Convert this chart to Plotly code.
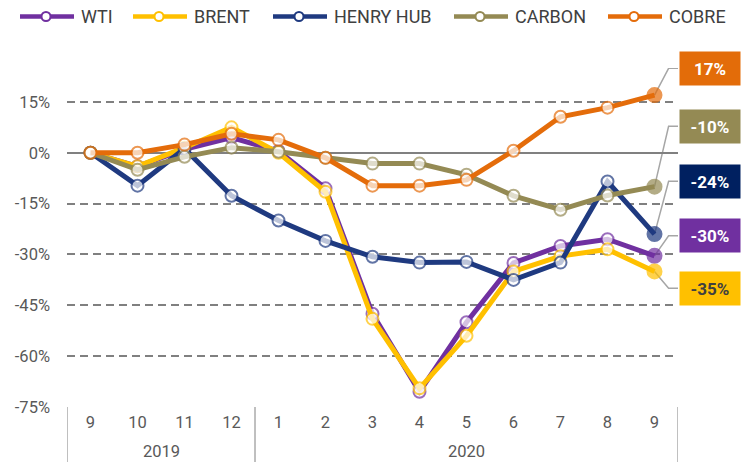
import plotly.graph_objects as go

# ---- data ----
months = ["9", "10", "11", "12", "1", "2", "3", "4", "5", "6", "7", "8", "9"]
years = ["2019", "2020"]
year_counts = [4, 9]

series_names = ["WTI", "BRENT", "HENRY HUB", "CARBON", "COBRE"]
wti = [0, -4, 1, 4.5, 0.5, -10.5, -47.5, -70.5, -50, -32.5, -27.5, -25.5, -30.4]
brent = [0, -4, 1.5, 7.5, 0, -11.5, -49, -69.5, -54, -35, -30.5, -28.5, -35]
henry_hub = [0, -9.7, 1.2, -12.7, -20, -26, -30.7, -32.4, -32.2, -37.5, -32.4, -8.5, -24]
carbon = [0, -5, -1.2, 1.5, 0.3, -1.5, -3.2, -3.2, -6.5, -12.7, -16.8, -12.6, -10]
cobre = [0, 0, 2.4, 5.6, 3.8, -1.5, -9.7, -9.7, -8, 0.6, 10.6, 13.3, 17]

y_ticks = [-75, -60, -45, -30, -15, 0, 15]
y_tick_text = ["-75%", "-60%", "-45%", "-30%", "-15%", "0%", "15%"]

# ---- styles / layout ----
line_colors = ["#7030A0", "#FFC000", "#1F3A80", "#948A54", "#E46C0A"]
box_colors = ["#7030A0", "#FFC000", "#002060", "#948A54", "#E36C09"]
box_text_colors = ["#FFFFFF", "#404040", "#FFFFFF", "#FFFFFF", "#FFFFFF"]
callout_y = [-24.5, -40, -8.4, 7.8, 24.9]      # callout box centres (axis units)
legend_x_px = [20, 133, 273, 454, 608]          # legend symbol starts (pixels)

W, H = 746, 462
ML, MR, MT, MB = 67, 68, 68, 55
PW, PH = W - ML - MR, H - MT - MB
X_RANGE = [-0.5, 12.5]
Y_RANGE = [-75, 25]

FONT = "Roboto, 'Noto Sans', sans-serif"
TICK_SIZE = 16.5


def px_to_paper_x(px):
    return (px - ML) / PW


def px_to_paper_y(py):
    return (H - MB - py) / PH


def xval_to_paper(v):
    return (v - X_RANGE[0]) / (X_RANGE[1] - X_RANGE[0])


all_series = [wti, brent, henry_hub, carbon, cobre]
x = list(range(len(months)))

fig = go.Figure()
for name, vals, col in zip(series_names, all_series, line_colors):
    n = len(vals)
    fig.add_trace(go.Scatter(
        x=x, y=vals, name=name, mode="lines+markers",
        line=dict(color=col, width=5),
        marker=dict(
            symbol="circle",
            size=[12] * (n - 1) + [14],
            color=["#FFFFFF"] * (n - 1) + [col],
            line=dict(color=col, width=2),
        ),
        cliponaxis=False, showlegend=False, hoverinfo="skip",
    ))

shapes = []
annotations = []
last = len(months) - 1

# callouts with elbow leader lines
for vals, bg, fg, cy in zip(all_series, box_colors, box_text_colors, callout_y):
    v = vals[-1]
    shapes.append(dict(
        type="path", xref="x", yref="y",
        path=f"M {last},{v} L {last + 0.3},{cy} L {last + 0.56},{cy}",
        line=dict(color="#A6A6A6", width=1.5), layer="below",
    ))
    annotations.append(dict(
        xref="paper", yref="y", x=xval_to_paper(last + 1.19), y=cy,
        xanchor="center", yanchor="middle",
        text=f"<b>{round(v)}%</b>", showarrow=False,
        bgcolor=bg, width=58, height=31, borderpad=1,
        font=dict(family=FONT, size=17, color=fg),
    ))

# year group dividers and labels
bounds = [X_RANGE[0]]
for c in year_counts:
    bounds.append(bounds[-1] + c)
for b in bounds:
    shapes.append(dict(
        type="line", xref="x", yref="paper", x0=b, x1=b, y0=0, y1=px_to_paper_y(H + 2),
        line=dict(color="#808080", width=1),
    ))
for i, yr in enumerate(years):
    annotations.append(dict(
        xref="x", yref="paper", x=(bounds[i] + bounds[i + 1]) / 2, y=px_to_paper_y(451),
        text=yr, showarrow=False, xanchor="center", yanchor="middle",
        font=dict(family=FONT, size=TICK_SIZE, color="#595959"),
    ))

# legend drawn by hand
ly = px_to_paper_y(16.5)
for name, col, sx in zip(series_names, line_colors, legend_x_px):
    shapes.append(dict(
        type="line", xref="paper", yref="paper",
        x0=px_to_paper_x(sx), x1=px_to_paper_x(sx + 54), y0=ly, y1=ly,
        line=dict(color=col, width=4.5),
    ))
    shapes.append(dict(
        type="circle", xref="paper", yref="paper",
        xsizemode="pixel", ysizemode="pixel",
        xanchor=px_to_paper_x(sx + 26), yanchor=ly,
        x0=-4.5, x1=4.5, y0=-4.5, y1=4.5,
        fillcolor="#FFFFFF", line=dict(color=col, width=2),
    ))
    annotations.append(dict(
        xref="paper", yref="paper", x=px_to_paper_x(sx + 59), y=ly,
        xanchor="left", yanchor="middle", showarrow=False, text=name,
        font=dict(family=FONT, size=18, color="#404040"),
    ))

fig.update_layout(
    width=W, height=H,
    margin=dict(l=ML, r=MR, t=MT, b=MB, autoexpand=False),
    paper_bgcolor="white", plot_bgcolor="white",
    font=dict(family=FONT, size=TICK_SIZE, color="#595959"),
    showlegend=False,
    xaxis=dict(
        range=X_RANGE, tickvals=x, ticktext=months,
        showgrid=False, zeroline=False, showline=False, ticks="",
        ticklabelstandoff=3, automargin=False,
        tickfont=dict(family=FONT, size=TICK_SIZE, color="#595959"),
        fixedrange=True,
    ),
    yaxis=dict(
        range=Y_RANGE, tickvals=y_ticks, ticktext=y_tick_text,
        showgrid=True, gridcolor="#808080", gridwidth=1.5, griddash="8px,5px",
        zeroline=True, zerolinecolor="#808080", zerolinewidth=1.5,
        showline=False, ticks="", ticklabelstandoff=16, automargin=False,
        tickfont=dict(family=FONT, size=TICK_SIZE, color="#595959"),
        fixedrange=True,
    ),
    shapes=shapes, annotations=annotations,
)

fig.write_html(
    "out.html",
    config={"displayModeBar": False},
    post_script="document.body.style.margin='0';document.body.style.overflow='hidden';",
)
